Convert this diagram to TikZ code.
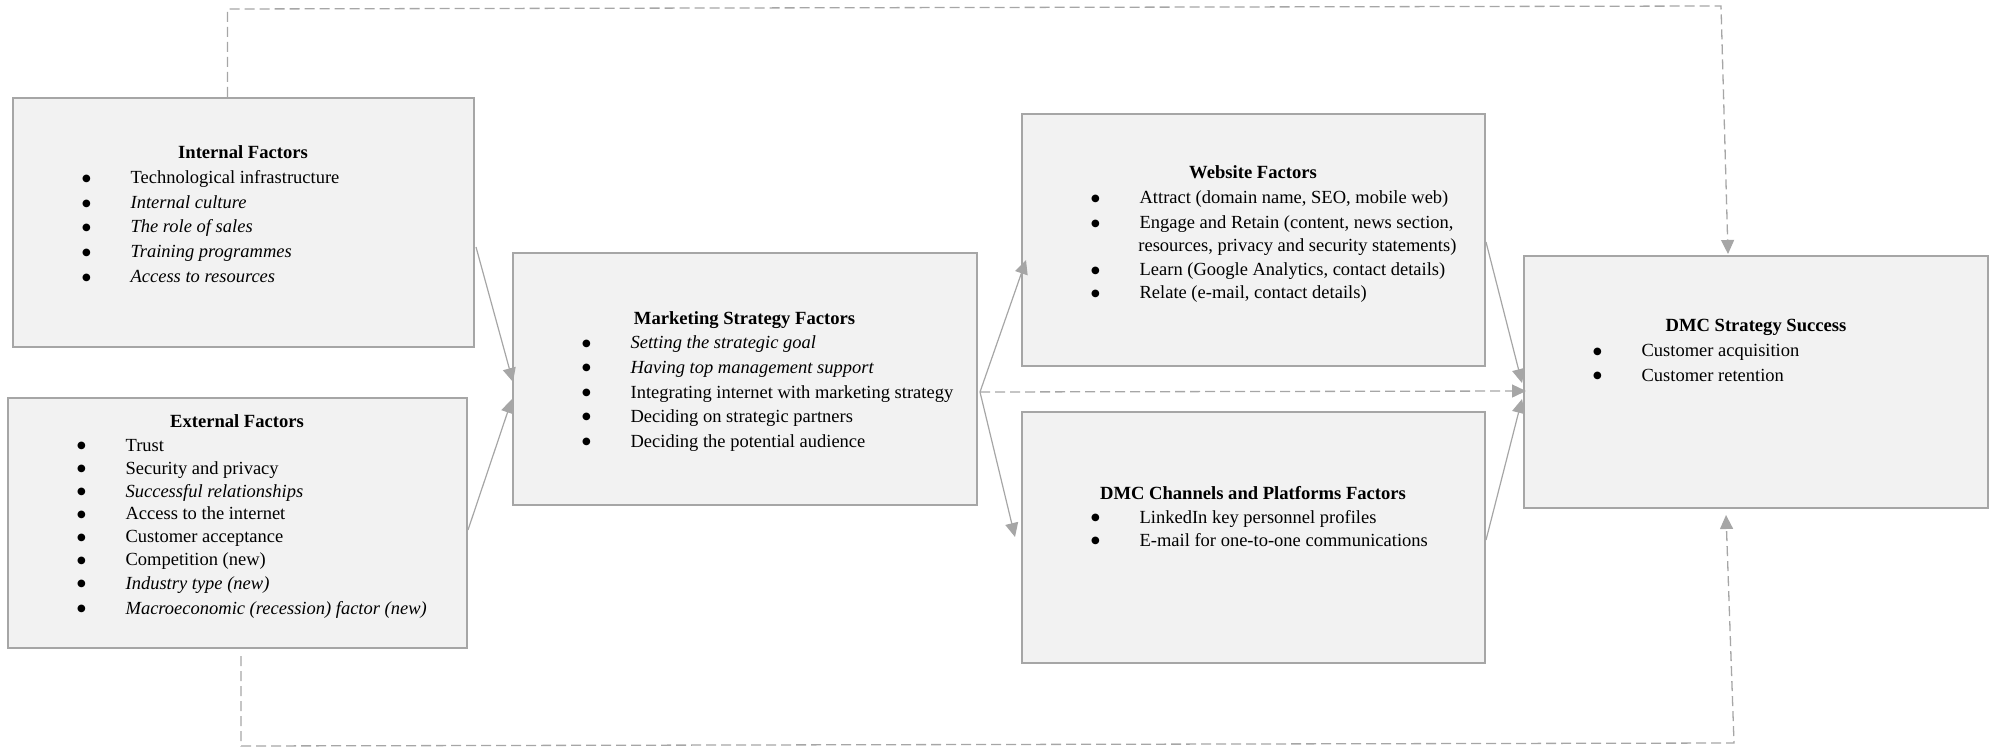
\documentclass[tikz,border=0pt]{standalone}
\usepackage{fontspec}
\setmainfont{Liberation Serif}
\newfontfamily\dotfont{DejaVu Sans}
\usetikzlibrary{arrows.meta,calc}

\definecolor{boxfill}{HTML}{F2F2F2}
\definecolor{boxline}{HTML}{A6A6A6}
\definecolor{linkgray}{HTML}{A6A6A6}

% round bullet followed by a fixed indent before the item text
\newcommand\bul{\makebox[23.6pt][l]{\hspace*{-0.6pt}\raisebox{1.2pt}{\dotfont\fontsize{5}{5}\selectfont ●}}}

\tikzset{
  factor/.style={draw=boxline, fill=boxfill, line width=1pt, rectangle, inner sep=0pt},
  heading/.style={anchor=base, inner sep=0pt, font=\fontsize{9.3}{11}\selectfont\bfseries},
  item/.style={anchor=base west, inner sep=0pt},
  link/.style={draw=linkgray, line width=0.6pt, -{Triangle[length=7pt,width=6.5pt]}},
  dlink/.style={draw=linkgray, line width=0.65pt, dash pattern=on 5pt off 2.5pt,
    -{Triangle[length=7pt,width=6.5pt]}},
}

\begin{document}
\begin{tikzpicture}[x=0.5pt, y=-0.5pt, font=\fontsize{9.25}{12.25}\selectfont]
\useasboundingbox (0,0) rectangle (1995,748);

% ---- boxes ----
\node[factor, minimum width=230.5pt, minimum height=124.5pt] (int) at (243.5,222.5) {};
\node[factor, minimum width=229.5pt, minimum height=125pt]   (ext) at (237.5,523) {};
\node[factor, minimum width=232pt,   minimum height=126pt]   (mkt) at (745,379) {};
\node[factor, minimum width=231.5pt, minimum height=126pt]   (web) at (1253.5,240) {};
\node[factor, minimum width=231.5pt, minimum height=125.5pt] (chn) at (1253.5,537.5) {};
\node[factor, minimum width=232pt,   minimum height=126pt]   (suc) at (1756,382) {};

% ---- Internal Factors ----
\node[heading] (int-h) at (243,159) {Internal Factors};
\foreach \y/\t [count=\k] in {184/Technological infrastructure,
    208.5/\textit{Internal culture},
    233/\textit{The role of sales},
    258/\textit{Training programmes},
    282.5/\textit{Access to resources}}
  \node[item] (int-\k) at (83,\y) {\bul\t};

% ---- External Factors ----
\node[heading] (ext-h) at (237,427) {External Factors};
\foreach \y/\t [count=\k] in {451/Trust,
    474/Security and privacy,
    497/\textit{Successful relationships},
    519.5/Access to the internet,
    542.5/Customer acceptance,
    565.5/Competition (new),
    589/\textit{Industry type (new)},
    614/\textit{Macroeconomic (recession) factor (new)}}
  \node[item] (ext-\k) at (78,\y) {\bul\t};

% ---- Marketing Strategy Factors ----
\node[heading] (mkt-h) at (744.5,325) {Marketing Strategy Factors};
\foreach \y/\t [count=\k] in {349/\textit{Setting the strategic goal},
    373/\textit{Having top management support},
    398/Integrating internet with marketing strategy,
    422/Deciding on strategic partners,
    447/Deciding the potential audience}
  \node[item] (mkt-\k) at (583,\y) {\bul\t};

% ---- Website Factors ----
\node[heading] (web-h) at (1253,179) {Website Factors};
\node[item] (web-1) at (1092,204) {\bul Attract (domain name, SEO, mobile web)};
\node[item] (web-2) at (1092,229) {\bul Engage and Retain (content, news section,};
\node[item] (web-2b) at (1138,252) {resources, privacy and security statements)};
\node[item] (web-3) at (1092,276) {\bul Learn (Google Analytics, contact details)};
\node[item] (web-4) at (1092,299) {\bul Relate (e-mail, contact details)};

% ---- DMC Channels and Platforms Factors ----
\node[heading] (chn-h) at (1253,499) {DMC Channels and Platforms Factors};
\node[item] (chn-1) at (1092,523) {\bul LinkedIn key personnel profiles};
\node[item] (chn-2) at (1092,546) {\bul E-mail for one-to-one communications};

% ---- DMC Strategy Success ----
\node[heading] (suc-h) at (1756,332) {DMC Strategy Success};
\node[item] (suc-1) at (1594,357) {\bul Customer acquisition};
\node[item] (suc-2) at (1594,381) {\bul Customer retention};

% ---- solid connectors ----
\draw[link] ($(int.east)+(1,24.5)$) -- ($(mkt.west)+(1,3)$);
\draw[link] ($(ext.east)+(0,7)$) -- ($(mkt.west)+(0,20)$);
\draw[link] ($(mkt.east)+(2,13)$) -- ($(web.west)+(5,20)$);
\draw[link] ($(mkt.east)+(2,13)$) -- ($(chn.west)+(-6,-0.5)$);
\draw[link] ($(web.east)+(0,2)$) -- ($(suc.west)+(-1,1)$);
\draw[link] ($(chn.east)+(0,2.5)$) -- ($(suc.west)+(-1,17)$);

% ---- dashed connectors ----
\draw[dlink] ($(mkt.east)+(2,13)$) -- ($(suc.west)+(3,9)$);

\coordinate (top-l) at (227.5,9);
\coordinate (top-r) at (1721,6);
\draw[dlink] ($(int.north)+(-16,0)$) -- (top-l) -- (top-r) -- ($(suc.north)+(-28,-1)$);

\coordinate (bot-l) at (241,746);
\coordinate (bot-r) at (1734,743);
\draw[dlink] ($(ext.south)+(3.5,7)$) -- (bot-l) -- (bot-r) -- ($(suc.south)+(-30,6)$);
\end{tikzpicture}
\end{document}
